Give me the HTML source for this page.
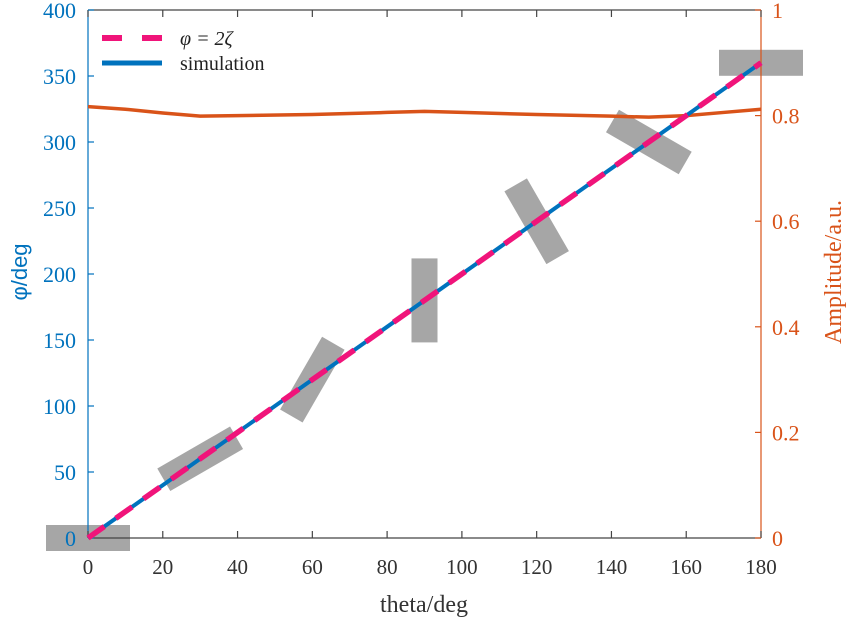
<!DOCTYPE html>
<html><head><meta charset="utf-8"><style>
html,body{margin:0;padding:0;background:#fff;}
svg{display:block;}
text{font-family:"Liberation Serif",serif;}
</style></head><body>
<svg id="chart" width="850" height="621" viewBox="0 0 850 621" xmlns="http://www.w3.org/2000/svg">
<g id="markers"></g>
<g id="axes"></g>
<g id="series"></g>
<g>
  <line x1="102" y1="38" x2="162" y2="38" stroke="#F0147A" stroke-width="6" stroke-dasharray="20,20"/>
  <text x="180" y="45" font-size="20" font-style="italic" fill="#222">φ = 2ζ</text>
  <line x1="102" y1="63" x2="162" y2="63" stroke="#0072BD" stroke-width="5"/>
  <text x="180" y="70" font-size="20" fill="#222">simulation</text>
</g>
<text x="424" y="612" font-size="24" text-anchor="middle" fill="#333">theta/deg</text>
<text transform="translate(27,272) rotate(-90)" font-size="22" text-anchor="middle" fill="#0072BD" style="font-family:'Liberation Sans',sans-serif">φ/deg</text>
<text transform="translate(841,272) rotate(-90)" font-size="24" text-anchor="middle" fill="#D95319">Amplitude/a.u.</text>
</svg>
<script>
const xTicks=[0,20,40,60,80,100,120,140,160,180];
const yLeftTicks=[0,50,100,150,200,250,300,350,400];
const yRightTicks=[0,0.2,0.4,0.6,0.8,1];
const yRightLabels=["0","0.2","0.4","0.6","0.8","1"];
const simTheta=[0,180];
const simPhi=[0,360];
const ampTheta=[0,10,20,30,40,60,80,90,100,120,140,150,160,170,180];
const ampValues=[0.817,0.812,0.805,0.799,0.800,0.802,0.806,0.808,0.806,0.802,0.799,0.797,0.800,0.806,0.812];
const markerTheta=[0,30,60,90,120,150,180];
const markerPhi=[0,60,120,180,240,300,360];

const X0=88,X1=761,Y0=538,Y1=10;
const xs=t=>X0+(t/180)*(X1-X0);
const yl=v=>Y0-(v/400)*(Y0-Y1);
const yr=v=>Y0-v*(Y0-Y1);
const NS="http://www.w3.org/2000/svg";
function mk(parent,tag,attrs){const e=document.createElementNS(NS,tag);for(const k in attrs)e.setAttribute(k,attrs[k]);parent.appendChild(e);return e;}

const gm=document.getElementById('markers');
markerTheta.forEach((t,i)=>{
  const cx=xs(t),cy=yl(markerPhi[i]);
  const r=mk(gm,'rect',{x:cx-42,y:cy-13,width:84,height:26,fill:'#A6A6A6',transform:`rotate(${-t} ${cx} ${cy})`});
  
  
});

const ga=document.getElementById('axes');
let l;
l=mk(ga,'line',{x1:X0,y1:Y0,x2:X1,y2:Y0,stroke:'#444','stroke-width':1.2});


l=mk(ga,'line',{x1:X0,y1:Y1,x2:X1,y2:Y1,stroke:'#444','stroke-width':1.2});


l=mk(ga,'line',{x1:X0,y1:Y0,x2:X0,y2:Y1,stroke:'#0072BD','stroke-width':1.2});


l=mk(ga,'line',{x1:X1,y1:Y0,x2:X1,y2:Y1,stroke:'#D95319','stroke-width':1.2});


xTicks.forEach(t=>{
  const x=xs(t);
  mk(ga,'line',{x1:x,y1:Y0,x2:x,y2:Y0-7,stroke:'#444','stroke-width':1.2});
  mk(ga,'line',{x1:x,y1:Y1,x2:x,y2:Y1+7,stroke:'#444','stroke-width':1.2});
  const tx=mk(ga,'text',{x:x,y:Y0+36,'font-size':21,'text-anchor':'middle',fill:'#333'});
  tx.textContent=t;
  
  
});
yLeftTicks.forEach(v=>{
  const y=yl(v);
  mk(ga,'line',{x1:X0,y1:y,x2:X0+6,y2:y,stroke:'#0072BD','stroke-width':1.2});
  const tx=mk(ga,'text',{x:76,y:y+8,'font-size':22,'text-anchor':'end',fill:'#0072BD'});
  tx.textContent=v;
  
  
});
yRightTicks.forEach((v,i)=>{
  const y=yr(v);
  mk(ga,'line',{x1:X1,y1:y,x2:X1-6,y2:y,stroke:'#D95319','stroke-width':1.2});
  const tx=mk(ga,'text',{x:772,y:y+8,'font-size':22,'text-anchor':'start',fill:'#D95319'});
  tx.textContent=yRightLabels[i];
  
  
});

const gs=document.getElementById('series');
const amp=mk(gs,'polyline',{points:ampTheta.map((t,i)=>xs(t)+','+yr(ampValues[i])).join(' '),fill:'none',stroke:'#D95319','stroke-width':3.5});


const sim=mk(gs,'polyline',{points:simTheta.map((t,i)=>xs(t)+','+yl(simPhi[i])).join(' '),fill:'none',stroke:'#0072BD','stroke-width':4});


const th=mk(gs,'polyline',{points:simTheta.map((t,i)=>xs(t)+','+yl(2*t)).join(' '),fill:'none',stroke:'#F0147A','stroke-width':5.5,'stroke-dasharray':'20,14'});


</script>
</body></html>
